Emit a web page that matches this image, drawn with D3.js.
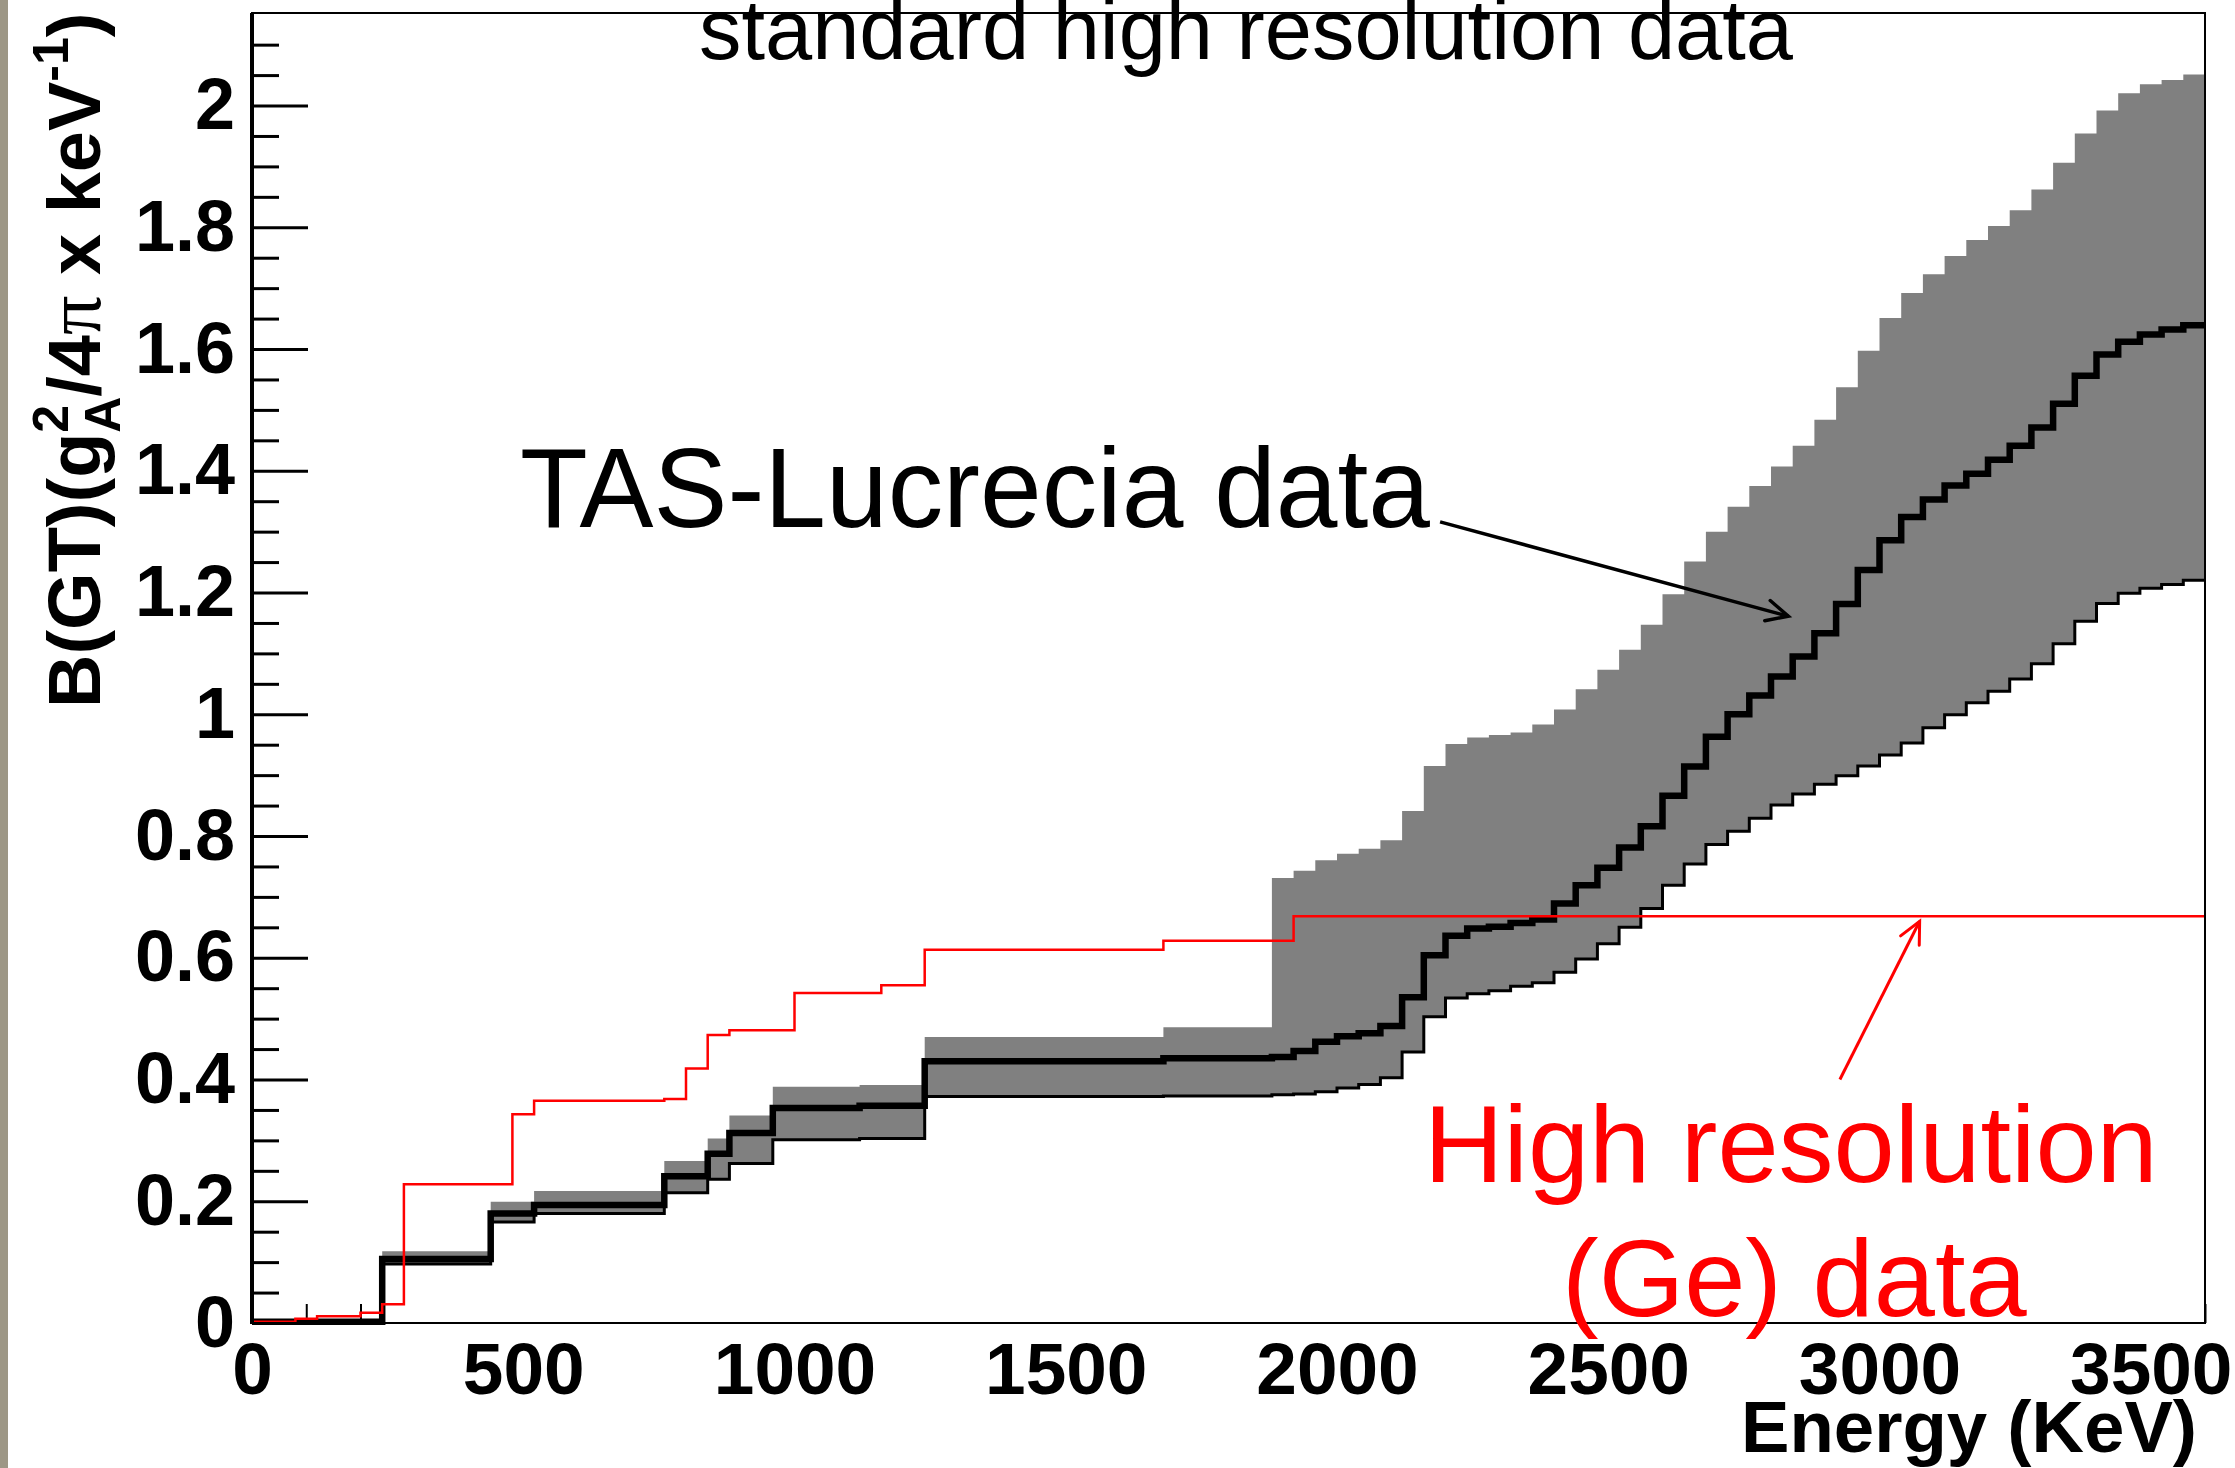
<!DOCTYPE html>
<html>
<head>
<meta charset="utf-8">
<script src="https://cdn.jsdelivr.net/npm/d3@7"></script>
<style>
  body { margin: 0; background: #fff; }
  text { font-family: "Liberation Sans", Arial, sans-serif; }
</style>
</head>
<body>
<script>
// TAS histogram bin edges (keV), shared by the three TAS series
const tasEdges = [0, 240, 440, 520, 760, 840, 880, 960, 1120, 1240, 1680, 1880,
  1920, 1960, 2000, 2040, 2080, 2120, 2160, 2200, 2240, 2280, 2320, 2360, 2400,
  2440, 2480, 2520, 2560, 2600, 2640, 2680, 2720, 2760, 2800, 2840, 2880, 2920,
  2960, 3000, 3040, 3080, 3120, 3160, 3200, 3240, 3280, 3320, 3360, 3400, 3440,
  3480, 3520, 3560, 3600];

const tasUpper = [0.003, 0.118, 0.199, 0.217, 0.266, 0.303, 0.341, 0.388, 0.391, 0.470, 0.486,
  0.731, 0.743, 0.760, 0.771, 0.779, 0.793, 0.841, 0.915, 0.951, 0.962, 0.966, 0.970,
  0.983, 1.008, 1.041, 1.073, 1.106, 1.147, 1.197, 1.251, 1.300, 1.341, 1.375, 1.407,
  1.441, 1.484, 1.537, 1.597, 1.651, 1.692, 1.723, 1.753, 1.779, 1.802, 1.828, 1.862,
  1.906, 1.954, 1.992, 2.020, 2.035, 2.042, 2.051];

const tasCentral = [0.002, 0.105, 0.180, 0.194, 0.241, 0.278, 0.312, 0.353, 0.357, 0.430, 0.435,
  0.437, 0.447, 0.462, 0.471, 0.476, 0.488, 0.535, 0.604, 0.636, 0.648, 0.651, 0.657,
  0.663, 0.689, 0.719, 0.748, 0.781, 0.816, 0.866, 0.914, 0.963, 1.000, 1.031, 1.062,
  1.095, 1.133, 1.181, 1.237, 1.286, 1.324, 1.353, 1.376, 1.395, 1.418, 1.441, 1.471,
  1.510, 1.556, 1.591, 1.612, 1.624, 1.632, 1.639];

const tasLower = [0.001, 0.097, 0.166, 0.180, 0.214, 0.236, 0.262, 0.301, 0.303, 0.372, 0.373,
  0.375, 0.376, 0.380, 0.386, 0.392, 0.403, 0.445, 0.503, 0.534, 0.541, 0.546, 0.553,
  0.559, 0.576, 0.598, 0.623, 0.650, 0.681, 0.719, 0.754, 0.786, 0.808, 0.829, 0.851,
  0.869, 0.885, 0.899, 0.915, 0.933, 0.953, 0.978, 0.999, 1.019, 1.038, 1.058, 1.083,
  1.116, 1.153, 1.182, 1.199, 1.207, 1.213, 1.220];

// high resolution (Ge) histogram
const geEdges = [0, 80, 120, 200, 240, 280, 480, 520, 760, 800, 840, 880, 1000, 1160, 1240, 1680, 1920, 3600];
const geValues = [0.002, 0.007, 0.011, 0.017, 0.031, 0.228, 0.343, 0.365, 0.368, 0.418, 0.473,
  0.481, 0.542, 0.555, 0.613, 0.628, 0.668];

const xTicks = [0, 500, 1000, 1500, 2000, 2500, 3000, 3500];
const yTicks = [0, 0.2, 0.4, 0.6, 0.8, 1, 1.2, 1.4, 1.6, 1.8, 2];
const yTickLabels = ["0", "0.2", "0.4", "0.6", "0.8", "1", "1.2", "1.4", "1.6", "1.8", "2"];

// annotations: [keV, value] of arrow start and tip
const tasArrow = [[2190, 1.316], [2832, 1.161]];
const geArrow = [[2927, 0.400], [3074, 0.660]];

const w = 2235, h = 1468;
const padLeft = 252, padRight = 2205, padTop = 13, padBottom = 1323;

const svg = d3.select("body")
  .append("svg")
  .attr("width", w)
  .attr("height", h);

svg.append("rect").attr("width", w).attr("height", h).attr("fill", "#fff");
// greyish strip on the left border of the slide
svg.append("rect").attr("width", 8).attr("height", h).attr("fill", "#9d9786");

const xScale = d3.scaleLinear().domain([0, 3600]).range([padLeft, padRight]);
const yScale = d3.scaleLinear().domain([0, 2.152]).range([padBottom, padTop]);

const steps = (edges, vals) => vals.map((v, i) => [edges[i], v])
  .concat([[edges[edges.length - 1], vals[vals.length - 1]]]);

const line = d3.line()
  .x(d => xScale(d[0]))
  .y(d => yScale(d[1]))
  .curve(d3.curveStepAfter);

const area = d3.area()
  .x(d => xScale(d[0]))
  .y0(yScale(0))
  .y1(d => yScale(d[1]))
  .curve(d3.curveStepAfter);

// x axis ticks first, the white lower histogram hides them like in ROOT
const xMinor = d3.range(0, 3601, 100).filter(v => v % 500 != 0);
svg.append("g")
  .attr("transform", `translate(0, ${padBottom})`)
  .call(d3.axisBottom(xScale).tickValues(xMinor).tickSizeInner(-19).tickSizeOuter(0).tickFormat(""))
  .call(g => g.select(".domain").remove())
  .call(g => g.selectAll("line").attr("stroke-width", 2));

svg.append("g")
  .attr("transform", `translate(0, ${padBottom})`)
  .call(d3.axisBottom(xScale).tickValues(xTicks).tickSizeInner(-38).tickSizeOuter(0).tickPadding(19).tickFormat(d => d))
  .call(g => g.select(".domain").remove())
  .call(g => g.selectAll("line").attr("stroke-width", 2))
  .call(g => g.selectAll("text")
    .attr("font-family", "Liberation Sans, Arial, sans-serif")
    .attr("font-weight", "bold")
    .attr("font-size", 73)
    .attr("fill", "#000"));

// error band: upper bound in grey, lower bound in white
svg.append("path")
  .attr("d", area(steps(tasEdges, tasUpper)))
  .attr("fill", "#808080");

svg.append("path")
  .attr("d", area(steps(tasEdges, tasLower)))
  .attr("fill", "#fff");

svg.append("path")
  .attr("d", line(steps(tasEdges, tasLower)))
  .attr("fill", "none")
  .attr("stroke", "#000")
  .attr("stroke-width", 3);

svg.append("path")
  .attr("d", line(steps(tasEdges, tasCentral)))
  .attr("fill", "none")
  .attr("stroke", "#000")
  .attr("stroke-width", 6.5);

svg.append("path")
  .attr("d", line(steps(geEdges, geValues)))
  .attr("fill", "none")
  .attr("stroke", "#ff0000")
  .attr("stroke-width", 2.5);

// frame
svg.append("rect")
  .attr("x", padLeft).attr("y", padTop)
  .attr("width", padRight - padLeft).attr("height", padBottom - padTop)
  .attr("fill", "none")
  .attr("stroke", "#000")
  .attr("stroke-width", 2);

// y axis
const yMinor = d3.range(0.05, 2.12, 0.05).filter(v => Math.abs(v * 5 - Math.round(v * 5)) > 1e-6);
svg.append("g")
  .attr("transform", `translate(${padLeft}, 0)`)
  .call(d3.axisLeft(yScale).tickValues(yMinor).tickSizeInner(-27).tickSizeOuter(0).tickFormat(""))
  .call(g => g.select(".domain").remove())
  .call(g => g.selectAll("line").attr("stroke-width", 3));

svg.append("g")
  .attr("transform", `translate(${padLeft}, 0)`)
  .call(d3.axisLeft(yScale).tickValues(yTicks).tickSizeInner(-56).tickSizeOuter(0).tickPadding(17)
    .tickFormat((d, i) => yTickLabels[i]))
  .call(g => g.select(".domain").remove())
  .call(g => g.selectAll("line").attr("stroke-width", 3))
  .call(g => g.selectAll("text")
    .attr("font-family", "Liberation Sans, Arial, sans-serif")
    .attr("font-weight", "bold")
    .attr("font-size", 72)
    .attr("fill", "#000"));

svg.append("line")
  .attr("x1", padLeft).attr("x2", padLeft)
  .attr("y1", padTop).attr("y2", padBottom + 1)
  .attr("stroke", "#000")
  .attr("stroke-width", 4);

// titles
svg.append("text")
  .attr("x", 1246).attr("y", 59)
  .attr("text-anchor", "middle")
  .attr("font-size", 85)
  .attr("textLength", 1094)
  .attr("lengthAdjust", "spacingAndGlyphs")
  .text("standard high resolution data");

svg.append("text")
  .attr("x", 2197).attr("y", 1452)
  .attr("text-anchor", "end")
  .attr("font-size", 73)
  .attr("font-weight", "bold")
  .attr("textLength", 456)
  .attr("lengthAdjust", "spacingAndGlyphs")
  .text("Energy (KeV)");

const yTitle = svg.append("text")
  .attr("transform", "translate(100, 708) rotate(-90)")
  .attr("font-size", 74)
  .attr("font-weight", "bold");
yTitle.append("tspan").text("B(GT)(g");
yTitle.append("tspan").attr("font-size", 50).attr("dy", -32).text("2");
yTitle.append("tspan").attr("font-size", 50).attr("dx", -28).attr("dy", 52).text("A");
yTitle.append("tspan").attr("dy", -20).text("/4");
yTitle.append("tspan")
  .attr("font-family", "Liberation Serif, serif")
  .attr("font-weight", "normal")
  .attr("font-size", 78)
  .text("\u03c0");
yTitle.append("tspan").text(" x keV");
yTitle.append("tspan").attr("font-size", 50).attr("dy", -32).text("-1");
yTitle.append("tspan").attr("dy", 32).text(")");

// annotations
const arrowHead = (g, [p0, p1], color, width) => {
  const x0 = xScale(p0[0]), y0 = yScale(p0[1]), x1 = xScale(p1[0]), y1 = yScale(p1[1]);
  const a = Math.atan2(y1 - y0, x1 - x0);
  const len = 24, spread = 0.45;
  g.append("line")
    .attr("x1", x0).attr("y1", y0).attr("x2", x1).attr("y2", y1)
    .attr("stroke", color).attr("stroke-width", width);
  g.append("path")
    .attr("d", `M${x1 - len * Math.cos(a - spread)},${y1 - len * Math.sin(a - spread)}L${x1},${y1}L${x1 - len * Math.cos(a + spread)},${y1 - len * Math.sin(a + spread)}`)
    .attr("fill", "none")
    .attr("stroke", color)
    .attr("stroke-width", width)
    .attr("stroke-linecap", "round");
};

svg.append("text")
  .attr("x", 520).attr("y", 527)
  .attr("font-size", 114)
  .attr("textLength", 910)
  .attr("lengthAdjust", "spacingAndGlyphs")
  .text("TAS-Lucrecia data");
arrowHead(svg.append("g"), tasArrow, "#000", 3.5);

svg.append("text")
  .attr("x", 1424).attr("y", 1182)
  .attr("font-size", 110)
  .attr("fill", "#ff0000")
  .text("High resolution");
svg.append("text")
  .attr("x", 1562).attr("y", 1316)
  .attr("font-size", 110)
  .attr("fill", "#ff0000")
  .text("(Ge) data");
arrowHead(svg.append("g"), geArrow, "#ff0000", 3);
</script>
</body>
</html>
